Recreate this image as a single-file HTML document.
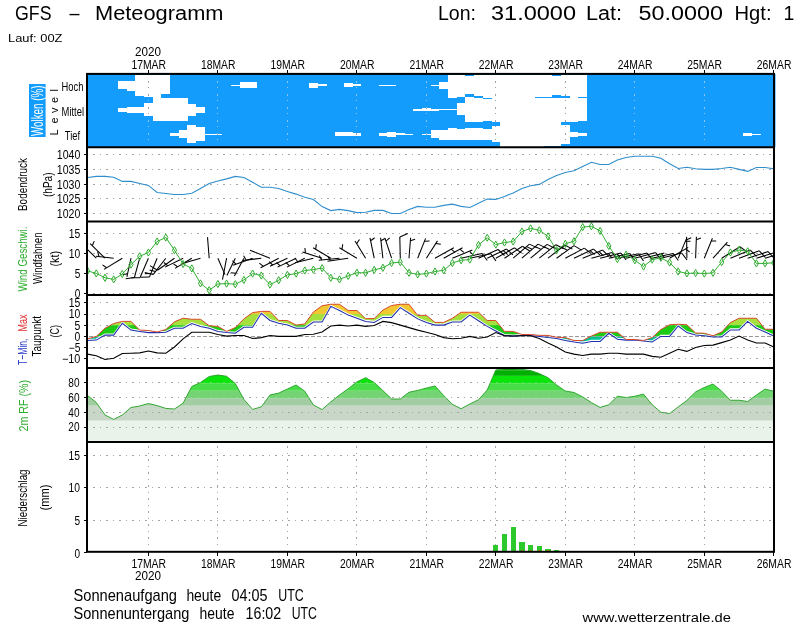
<!DOCTYPE html>
<html lang="de"><head><meta charset="utf-8"><title>GFS - Meteogramm</title>
<style>html,body{margin:0;padding:0;background:#fff}body{width:800px;height:625px;overflow:hidden}svg{display:block}text{font-family:"Liberation Sans",sans-serif}</style></head><body>
<svg width="800" height="625" viewBox="0 0 800 625">
<rect width="800" height="625" fill="#fff"/>
<defs>
<clipPath id="cp0"><rect x="87.0" y="73.9" width="687.0" height="73.4"/></clipPath>
<clipPath id="cp1"><rect x="87.0" y="147.3" width="687.0" height="74.1"/></clipPath>
<clipPath id="cp2"><rect x="87.0" y="221.4" width="687.0" height="73.49999999999997"/></clipPath>
<clipPath id="cp3"><rect x="87.0" y="294.9" width="687.0" height="73.0"/></clipPath>
<clipPath id="cp4"><rect x="87.0" y="367.9" width="687.0" height="74.0"/></clipPath>
<clipPath id="cp5"><rect x="87.0" y="441.9" width="687.0" height="109.89999999999998"/></clipPath>
</defs>
<rect x="87.0" y="73.9" width="688.5" height="73.4" fill="#139cfb"/>
<clipPath id="cw"><rect x="118.00" y="80.75" width="8.74" height="8.15"/><rect x="118.00" y="108" width="8.74" height="3.75"/><rect x="126.69" y="80.75" width="8.74" height="10.00"/><rect x="126.69" y="107" width="8.74" height="5.60"/><rect x="135.37" y="75.0" width="8.74" height="20.75"/><rect x="135.37" y="107" width="8.74" height="5.60"/><rect x="144.06" y="75.0" width="8.74" height="22.00"/><rect x="144.06" y="102.6" width="8.74" height="13.80"/><rect x="152.75" y="75.0" width="8.74" height="46.40"/><rect x="161.43" y="75.0" width="8.74" height="18.90"/><rect x="161.43" y="97.6" width="8.74" height="23.80"/><rect x="170.12" y="97.6" width="8.74" height="23.80"/><rect x="170.12" y="133" width="8.74" height="2.60"/><rect x="178.80" y="97.6" width="8.74" height="23.80"/><rect x="178.80" y="130.1" width="8.74" height="7.90"/><rect x="187.49" y="103.9" width="8.74" height="11.85"/><rect x="187.49" y="125.1" width="8.74" height="17.50"/><rect x="196.18" y="107" width="8.74" height="6.00"/><rect x="196.18" y="126.75" width="8.74" height="14.65"/><rect x="204.86" y="133.7" width="8.74" height="1.10"/><rect x="213.55" y="133.7" width="8.74" height="1.10"/><rect x="230.92" y="84.5" width="8.74" height="1.10"/><rect x="239.60" y="82" width="8.74" height="6.00"/><rect x="248.29" y="82" width="8.74" height="6.00"/><rect x="309.09" y="83.25" width="8.74" height="4.35"/><rect x="317.78" y="84" width="8.74" height="1.75"/><rect x="335.15" y="132.4" width="8.74" height="3.35"/><rect x="343.84" y="83.1" width="8.74" height="3.65"/><rect x="343.84" y="132.4" width="8.74" height="3.60"/><rect x="352.52" y="84.1" width="8.74" height="1.40"/><rect x="352.52" y="132.9" width="8.74" height="2.85"/><rect x="378.58" y="84.6" width="8.74" height="1.10"/><rect x="378.58" y="133" width="8.74" height="2.50"/><rect x="387.27" y="84.6" width="8.74" height="1.10"/><rect x="387.27" y="132" width="8.74" height="5.00"/><rect x="395.95" y="133" width="8.74" height="2.10"/><rect x="404.64" y="133.8" width="8.74" height="1.10"/><rect x="413.33" y="109" width="8.74" height="1.75"/><rect x="422.01" y="108" width="8.74" height="2.75"/><rect x="422.01" y="133.8" width="8.74" height="1.10"/><rect x="430.70" y="84.5" width="8.74" height="1.25"/><rect x="430.70" y="108.9" width="8.74" height="1.85"/><rect x="430.70" y="130.1" width="8.74" height="8.15"/><rect x="439.38" y="82" width="8.74" height="6.90"/><rect x="439.38" y="108.6" width="8.74" height="1.30"/><rect x="439.38" y="129.75" width="8.74" height="9.75"/><rect x="448.07" y="75.0" width="8.74" height="22.60"/><rect x="448.07" y="108.6" width="8.74" height="1.50"/><rect x="448.07" y="128.25" width="8.74" height="11.85"/><rect x="456.75" y="75.0" width="8.74" height="22.00"/><rect x="456.75" y="103.25" width="8.74" height="11.85"/><rect x="456.75" y="128.9" width="8.74" height="11.20"/><rect x="465.44" y="75.75" width="8.74" height="18.50"/><rect x="465.44" y="97" width="8.74" height="25.00"/><rect x="465.44" y="127.6" width="8.74" height="12.50"/><rect x="474.13" y="75.0" width="8.74" height="20.75"/><rect x="474.13" y="97.6" width="8.74" height="24.40"/><rect x="474.13" y="127.6" width="8.74" height="12.50"/><rect x="482.81" y="75.0" width="8.74" height="22.60"/><rect x="482.81" y="98.9" width="8.74" height="22.10"/><rect x="482.81" y="128.9" width="8.74" height="11.20"/><rect x="491.50" y="75.0" width="8.74" height="47.00"/><rect x="491.50" y="125.75" width="8.74" height="16.25"/><rect x="500.18" y="75.0" width="8.74" height="71.60"/><rect x="508.87" y="75.0" width="8.74" height="71.60"/><rect x="517.56" y="75.0" width="8.74" height="71.60"/><rect x="526.24" y="75.0" width="8.74" height="71.60"/><rect x="534.93" y="75.0" width="8.74" height="22.00"/><rect x="534.93" y="97.75" width="8.74" height="48.85"/><rect x="543.62" y="75.0" width="8.74" height="22.00"/><rect x="543.62" y="97.75" width="8.74" height="48.25"/><rect x="552.30" y="75.75" width="8.74" height="19.25"/><rect x="552.30" y="97.75" width="8.74" height="48.00"/><rect x="560.99" y="75.0" width="8.74" height="21.00"/><rect x="560.99" y="97.75" width="8.74" height="24.25"/><rect x="560.99" y="124.5" width="8.74" height="19.50"/><rect x="569.67" y="75.0" width="8.74" height="47.00"/><rect x="569.67" y="132" width="8.74" height="4.50"/><rect x="578.36" y="75.0" width="8.74" height="22.00"/><rect x="578.36" y="97.75" width="8.74" height="23.25"/><rect x="578.36" y="132.9" width="8.74" height="2.85"/><rect x="743.39" y="133" width="8.74" height="2.75"/><rect x="752.08" y="133.7" width="8.74" height="1.00"/></clipPath>
<line x1="148.5" y1="80.5" x2="148.5" y2="146" stroke="#8cc4f2" stroke-width="1" stroke-dasharray="2 4.5 1 5.5" shape-rendering="crispEdges"/>
<line x1="217.5" y1="80.5" x2="217.5" y2="146" stroke="#8cc4f2" stroke-width="1" stroke-dasharray="2 4.5 1 5.5" shape-rendering="crispEdges"/>
<line x1="287.5" y1="80.5" x2="287.5" y2="146" stroke="#8cc4f2" stroke-width="1" stroke-dasharray="2 4.5 1 5.5" shape-rendering="crispEdges"/>
<line x1="356.5" y1="80.5" x2="356.5" y2="146" stroke="#8cc4f2" stroke-width="1" stroke-dasharray="2 4.5 1 5.5" shape-rendering="crispEdges"/>
<line x1="426.5" y1="80.5" x2="426.5" y2="146" stroke="#8cc4f2" stroke-width="1" stroke-dasharray="2 4.5 1 5.5" shape-rendering="crispEdges"/>
<line x1="495.5" y1="80.5" x2="495.5" y2="146" stroke="#8cc4f2" stroke-width="1" stroke-dasharray="2 4.5 1 5.5" shape-rendering="crispEdges"/>
<line x1="565.5" y1="80.5" x2="565.5" y2="146" stroke="#8cc4f2" stroke-width="1" stroke-dasharray="2 4.5 1 5.5" shape-rendering="crispEdges"/>
<line x1="634.5" y1="80.5" x2="634.5" y2="146" stroke="#8cc4f2" stroke-width="1" stroke-dasharray="2 4.5 1 5.5" shape-rendering="crispEdges"/>
<line x1="704.5" y1="80.5" x2="704.5" y2="146" stroke="#8cc4f2" stroke-width="1" stroke-dasharray="2 4.5 1 5.5" shape-rendering="crispEdges"/>
<g fill="#fff" shape-rendering="crispEdges"><rect x="118.00" y="80.75" width="8.74" height="8.15"/><rect x="118.00" y="108" width="8.74" height="3.75"/><rect x="126.69" y="80.75" width="8.74" height="10.00"/><rect x="126.69" y="107" width="8.74" height="5.60"/><rect x="135.37" y="75.0" width="8.74" height="20.75"/><rect x="135.37" y="107" width="8.74" height="5.60"/><rect x="144.06" y="75.0" width="8.74" height="22.00"/><rect x="144.06" y="102.6" width="8.74" height="13.80"/><rect x="152.75" y="75.0" width="8.74" height="46.40"/><rect x="161.43" y="75.0" width="8.74" height="18.90"/><rect x="161.43" y="97.6" width="8.74" height="23.80"/><rect x="170.12" y="97.6" width="8.74" height="23.80"/><rect x="170.12" y="133" width="8.74" height="2.60"/><rect x="178.80" y="97.6" width="8.74" height="23.80"/><rect x="178.80" y="130.1" width="8.74" height="7.90"/><rect x="187.49" y="103.9" width="8.74" height="11.85"/><rect x="187.49" y="125.1" width="8.74" height="17.50"/><rect x="196.18" y="107" width="8.74" height="6.00"/><rect x="196.18" y="126.75" width="8.74" height="14.65"/><rect x="204.86" y="133.7" width="8.74" height="1.10"/><rect x="213.55" y="133.7" width="8.74" height="1.10"/><rect x="230.92" y="84.5" width="8.74" height="1.10"/><rect x="239.60" y="82" width="8.74" height="6.00"/><rect x="248.29" y="82" width="8.74" height="6.00"/><rect x="309.09" y="83.25" width="8.74" height="4.35"/><rect x="317.78" y="84" width="8.74" height="1.75"/><rect x="335.15" y="132.4" width="8.74" height="3.35"/><rect x="343.84" y="83.1" width="8.74" height="3.65"/><rect x="343.84" y="132.4" width="8.74" height="3.60"/><rect x="352.52" y="84.1" width="8.74" height="1.40"/><rect x="352.52" y="132.9" width="8.74" height="2.85"/><rect x="378.58" y="84.6" width="8.74" height="1.10"/><rect x="378.58" y="133" width="8.74" height="2.50"/><rect x="387.27" y="84.6" width="8.74" height="1.10"/><rect x="387.27" y="132" width="8.74" height="5.00"/><rect x="395.95" y="133" width="8.74" height="2.10"/><rect x="404.64" y="133.8" width="8.74" height="1.10"/><rect x="413.33" y="109" width="8.74" height="1.75"/><rect x="422.01" y="108" width="8.74" height="2.75"/><rect x="422.01" y="133.8" width="8.74" height="1.10"/><rect x="430.70" y="84.5" width="8.74" height="1.25"/><rect x="430.70" y="108.9" width="8.74" height="1.85"/><rect x="430.70" y="130.1" width="8.74" height="8.15"/><rect x="439.38" y="82" width="8.74" height="6.90"/><rect x="439.38" y="108.6" width="8.74" height="1.30"/><rect x="439.38" y="129.75" width="8.74" height="9.75"/><rect x="448.07" y="75.0" width="8.74" height="22.60"/><rect x="448.07" y="108.6" width="8.74" height="1.50"/><rect x="448.07" y="128.25" width="8.74" height="11.85"/><rect x="456.75" y="75.0" width="8.74" height="22.00"/><rect x="456.75" y="103.25" width="8.74" height="11.85"/><rect x="456.75" y="128.9" width="8.74" height="11.20"/><rect x="465.44" y="75.75" width="8.74" height="18.50"/><rect x="465.44" y="97" width="8.74" height="25.00"/><rect x="465.44" y="127.6" width="8.74" height="12.50"/><rect x="474.13" y="75.0" width="8.74" height="20.75"/><rect x="474.13" y="97.6" width="8.74" height="24.40"/><rect x="474.13" y="127.6" width="8.74" height="12.50"/><rect x="482.81" y="75.0" width="8.74" height="22.60"/><rect x="482.81" y="98.9" width="8.74" height="22.10"/><rect x="482.81" y="128.9" width="8.74" height="11.20"/><rect x="491.50" y="75.0" width="8.74" height="47.00"/><rect x="491.50" y="125.75" width="8.74" height="16.25"/><rect x="500.18" y="75.0" width="8.74" height="71.60"/><rect x="508.87" y="75.0" width="8.74" height="71.60"/><rect x="517.56" y="75.0" width="8.74" height="71.60"/><rect x="526.24" y="75.0" width="8.74" height="71.60"/><rect x="534.93" y="75.0" width="8.74" height="22.00"/><rect x="534.93" y="97.75" width="8.74" height="48.85"/><rect x="543.62" y="75.0" width="8.74" height="22.00"/><rect x="543.62" y="97.75" width="8.74" height="48.25"/><rect x="552.30" y="75.75" width="8.74" height="19.25"/><rect x="552.30" y="97.75" width="8.74" height="48.00"/><rect x="560.99" y="75.0" width="8.74" height="21.00"/><rect x="560.99" y="97.75" width="8.74" height="24.25"/><rect x="560.99" y="124.5" width="8.74" height="19.50"/><rect x="569.67" y="75.0" width="8.74" height="47.00"/><rect x="569.67" y="132" width="8.74" height="4.50"/><rect x="578.36" y="75.0" width="8.74" height="22.00"/><rect x="578.36" y="97.75" width="8.74" height="23.25"/><rect x="578.36" y="132.9" width="8.74" height="2.85"/><rect x="743.39" y="133" width="8.74" height="2.75"/><rect x="752.08" y="133.7" width="8.74" height="1.00"/></g>
<g clip-path="url(#cw)">
<line x1="148.5" y1="80.5" x2="148.5" y2="146" stroke="#a0a0a0" stroke-width="1" stroke-dasharray="2 4.5 1 5.5" shape-rendering="crispEdges"/>
<line x1="217.5" y1="80.5" x2="217.5" y2="146" stroke="#a0a0a0" stroke-width="1" stroke-dasharray="2 4.5 1 5.5" shape-rendering="crispEdges"/>
<line x1="287.5" y1="80.5" x2="287.5" y2="146" stroke="#a0a0a0" stroke-width="1" stroke-dasharray="2 4.5 1 5.5" shape-rendering="crispEdges"/>
<line x1="356.5" y1="80.5" x2="356.5" y2="146" stroke="#a0a0a0" stroke-width="1" stroke-dasharray="2 4.5 1 5.5" shape-rendering="crispEdges"/>
<line x1="426.5" y1="80.5" x2="426.5" y2="146" stroke="#a0a0a0" stroke-width="1" stroke-dasharray="2 4.5 1 5.5" shape-rendering="crispEdges"/>
<line x1="495.5" y1="80.5" x2="495.5" y2="146" stroke="#a0a0a0" stroke-width="1" stroke-dasharray="2 4.5 1 5.5" shape-rendering="crispEdges"/>
<line x1="565.5" y1="80.5" x2="565.5" y2="146" stroke="#a0a0a0" stroke-width="1" stroke-dasharray="2 4.5 1 5.5" shape-rendering="crispEdges"/>
<line x1="634.5" y1="80.5" x2="634.5" y2="146" stroke="#a0a0a0" stroke-width="1" stroke-dasharray="2 4.5 1 5.5" shape-rendering="crispEdges"/>
<line x1="704.5" y1="80.5" x2="704.5" y2="146" stroke="#a0a0a0" stroke-width="1" stroke-dasharray="2 4.5 1 5.5" shape-rendering="crispEdges"/>
</g>
<line x1="93" y1="154.5" x2="773.0" y2="154.5" stroke="#a4a4a4" stroke-width="1" stroke-dasharray="2 4.5 1 5.5" shape-rendering="crispEdges"/>
<line x1="93" y1="169.5" x2="773.0" y2="169.5" stroke="#a4a4a4" stroke-width="1" stroke-dasharray="2 4.5 1 5.5" shape-rendering="crispEdges"/>
<line x1="93" y1="184.5" x2="773.0" y2="184.5" stroke="#a4a4a4" stroke-width="1" stroke-dasharray="2 4.5 1 5.5" shape-rendering="crispEdges"/>
<line x1="93" y1="198.5" x2="773.0" y2="198.5" stroke="#a4a4a4" stroke-width="1" stroke-dasharray="2 4.5 1 5.5" shape-rendering="crispEdges"/>
<line x1="93" y1="213.5" x2="773.0" y2="213.5" stroke="#a4a4a4" stroke-width="1" stroke-dasharray="2 4.5 1 5.5" shape-rendering="crispEdges"/>
<g clip-path="url(#cp1)">
<polyline points="87.6,177.50 96.3,176.40 105.0,176.40 113.7,177.25 122.3,181.40 131.0,181.40 139.7,183.50 148.4,185.40 157.1,192.50 165.8,193.50 174.5,194.50 183.1,194.50 191.8,193.25 200.5,188.50 209.2,183.50 217.9,181.00 226.6,178.90 235.3,176.40 243.9,177.50 252.6,182.25 261.3,187.25 270.0,187.25 278.7,188.50 287.4,191.40 296.1,194.10 304.8,197.25 313.4,199.50 322.1,206.60 330.8,210.60 339.5,209.40 348.2,210.60 356.9,212.60 365.6,212.25 374.2,210.40 382.9,210.40 391.6,213.50 400.3,213.50 409.0,209.50 417.7,206.40 426.4,207.25 435.0,207.25 443.7,205.40 452.4,204.10 461.1,206.40 469.8,207.50 478.5,203.25 487.2,199.10 495.8,199.40 504.5,196.40 513.2,192.90 521.9,188.50 530.6,185.75 539.3,184.40 548.0,179.50 556.6,175.60 565.3,172.50 574.0,170.75 582.7,166.40 591.4,162.25 600.1,164.50 608.8,164.50 617.4,160.00 626.1,157.50 634.8,156.25 643.5,156.25 652.2,156.25 660.9,158.25 669.6,163.75 678.2,168.50 686.9,167.25 695.6,168.75 704.3,169.40 713.0,169.40 721.7,168.50 730.4,167.25 739.1,169.40 747.7,171.40 756.4,167.50 765.1,167.50 773.8,168.75" fill="none" stroke="#2f8ecb" stroke-width="1.1"/>
</g>
<line x1="93" y1="233.5" x2="773.0" y2="233.5" stroke="#a4a4a4" stroke-width="1" stroke-dasharray="2 4.5 1 5.5" shape-rendering="crispEdges"/>
<line x1="93" y1="253.5" x2="773.0" y2="253.5" stroke="#a4a4a4" stroke-width="1" stroke-dasharray="2 4.5 1 5.5" shape-rendering="crispEdges"/>
<line x1="93" y1="273.5" x2="773.0" y2="273.5" stroke="#a4a4a4" stroke-width="1" stroke-dasharray="2 4.5 1 5.5" shape-rendering="crispEdges"/>
<line x1="93" y1="293.5" x2="773.0" y2="293.5" stroke="#a4a4a4" stroke-width="1" stroke-dasharray="2 4.5 1 5.5" shape-rendering="crispEdges"/>
<g clip-path="url(#cp2)" stroke="#000" stroke-width="1.05" stroke-linecap="butt" fill="none">
<line x1="87.6" y1="258.2" x2="75.2" y2="246.0"/>
<line x1="77.3" y1="248.1" x2="79.2" y2="243.5"/>
<line x1="96.3" y1="258.2" x2="83.9" y2="246.0"/>
<line x1="86.0" y1="248.1" x2="87.9" y2="243.5"/>
<line x1="105.0" y1="258.2" x2="90.2" y2="243.6"/>
<line x1="92.3" y1="245.7" x2="94.2" y2="241.1"/>
<line x1="113.7" y1="258.2" x2="96.0" y2="256.2"/>
<line x1="99.0" y1="256.5" x2="97.6" y2="251.7"/>
<line x1="122.3" y1="258.2" x2="104.0" y2="269.4"/>
<line x1="106.6" y1="267.8" x2="102.5" y2="264.9"/>
<line x1="131.0" y1="258.2" x2="126.9" y2="276.8"/>
<line x1="127.6" y1="273.8" x2="122.6" y2="274.7"/>
<line x1="139.7" y1="258.2" x2="134.4" y2="277.5"/>
<line x1="134.4" y1="277.5" x2="125.7" y2="278.7"/>
<line x1="148.4" y1="258.2" x2="140.0" y2="277.8"/>
<line x1="140.0" y1="277.8" x2="131.2" y2="277.7"/>
<line x1="157.1" y1="258.2" x2="149.4" y2="277.1"/>
<line x1="149.4" y1="277.1" x2="140.8" y2="277.2"/>
<line x1="150.8" y1="273.6" x2="144.8" y2="273.7"/>
<line x1="165.8" y1="258.2" x2="153.1" y2="274.6"/>
<line x1="153.1" y1="274.6" x2="144.8" y2="272.4"/>
<line x1="155.4" y1="271.6" x2="149.6" y2="270.1"/>
<line x1="174.5" y1="258.2" x2="157.5" y2="270.2"/>
<line x1="157.5" y1="270.2" x2="150.0" y2="265.6"/>
<line x1="183.1" y1="258.2" x2="165.0" y2="267.1"/>
<line x1="167.7" y1="265.8" x2="163.9" y2="262.5"/>
<line x1="191.8" y1="258.2" x2="175.0" y2="268.4"/>
<line x1="177.6" y1="266.8" x2="173.5" y2="263.9"/>
<line x1="200.5" y1="258.2" x2="182.5" y2="263.4"/>
<line x1="209.2" y1="258.2" x2="207.5" y2="237.1"/>
<line x1="217.9" y1="258.2" x2="225.0" y2="274.6"/>
<line x1="226.6" y1="258.2" x2="222.5" y2="279.6"/>
<line x1="235.3" y1="258.2" x2="226.9" y2="275.6"/>
<line x1="243.9" y1="258.2" x2="234.4" y2="275.9"/>
<line x1="235.8" y1="273.3" x2="230.8" y2="272.8"/>
<line x1="252.6" y1="258.2" x2="233.1" y2="265.2"/>
<line x1="235.9" y1="264.2" x2="232.5" y2="260.6"/>
<line x1="261.3" y1="258.2" x2="243.1" y2="260.5"/>
<line x1="246.1" y1="260.1" x2="243.6" y2="255.8"/>
<line x1="270.0" y1="258.2" x2="250.0" y2="250.2"/>
<line x1="278.7" y1="258.2" x2="260.6" y2="267.8"/>
<line x1="263.3" y1="266.3" x2="259.4" y2="263.2"/>
<line x1="287.4" y1="258.2" x2="270.0" y2="266.2"/>
<line x1="272.7" y1="265.0" x2="269.0" y2="261.6"/>
<line x1="296.1" y1="258.2" x2="277.5" y2="267.1"/>
<line x1="280.2" y1="265.8" x2="276.5" y2="262.5"/>
<line x1="304.8" y1="258.2" x2="286.9" y2="267.1"/>
<line x1="289.6" y1="265.8" x2="285.8" y2="262.5"/>
<line x1="313.4" y1="258.2" x2="295.0" y2="262.8"/>
<line x1="297.9" y1="262.0" x2="294.9" y2="258.0"/>
<line x1="322.1" y1="258.2" x2="302.5" y2="252.1"/>
<line x1="305.4" y1="253.0" x2="304.9" y2="248.0"/>
<line x1="330.8" y1="258.2" x2="313.1" y2="247.8"/>
<line x1="315.7" y1="249.3" x2="316.3" y2="244.3"/>
<line x1="339.5" y1="258.2" x2="318.8" y2="260.2"/>
<line x1="321.7" y1="260.0" x2="319.3" y2="255.6"/>
<line x1="348.2" y1="258.2" x2="327.5" y2="261.2"/>
<line x1="330.5" y1="260.8" x2="327.9" y2="256.5"/>
<line x1="356.9" y1="258.2" x2="339.4" y2="247.8"/>
<line x1="342.0" y1="249.3" x2="342.7" y2="244.3"/>
<line x1="365.6" y1="258.2" x2="355.0" y2="241.0"/>
<line x1="356.6" y1="243.6" x2="359.5" y2="239.5"/>
<line x1="374.2" y1="258.2" x2="370.0" y2="237.8"/>
<line x1="370.6" y1="240.7" x2="374.7" y2="237.8"/>
<line x1="382.9" y1="258.2" x2="380.6" y2="237.8"/>
<line x1="380.9" y1="240.7" x2="385.3" y2="238.3"/>
<line x1="391.6" y1="258.2" x2="385.0" y2="238.4"/>
<line x1="385.9" y1="241.2" x2="389.7" y2="237.9"/>
<line x1="400.3" y1="258.2" x2="399.8" y2="237.1"/>
<line x1="399.8" y1="237.1" x2="407.8" y2="233.5"/>
<line x1="409.0" y1="258.2" x2="410.6" y2="237.8"/>
<line x1="410.4" y1="240.7" x2="415.1" y2="239.2"/>
<line x1="417.7" y1="258.2" x2="425.6" y2="238.4"/>
<line x1="424.5" y1="241.2" x2="429.5" y2="241.1"/>
<line x1="426.4" y1="258.2" x2="437.5" y2="240.9"/>
<line x1="435.9" y1="243.4" x2="440.8" y2="244.3"/>
<line x1="435.0" y1="258.2" x2="453.8" y2="247.8"/>
<line x1="451.1" y1="249.2" x2="455.1" y2="252.3"/>
<line x1="443.7" y1="258.2" x2="462.5" y2="247.8"/>
<line x1="459.9" y1="249.2" x2="463.8" y2="252.3"/>
<line x1="452.4" y1="258.2" x2="472.3" y2="250.1"/>
<line x1="469.6" y1="251.3" x2="473.1" y2="254.8"/>
<line x1="461.1" y1="258.2" x2="482.0" y2="253.4"/>
<line x1="482.0" y1="253.4" x2="487.2" y2="260.5"/>
<line x1="469.8" y1="258.2" x2="490.8" y2="253.7"/>
<line x1="490.8" y1="253.7" x2="495.9" y2="260.9"/>
<line x1="478.5" y1="258.2" x2="498.1" y2="249.5"/>
<line x1="498.1" y1="249.5" x2="504.5" y2="255.5"/>
<line x1="487.2" y1="258.2" x2="506.6" y2="249.1"/>
<line x1="506.6" y1="249.1" x2="513.0" y2="254.9"/>
<line x1="503.2" y1="250.7" x2="507.7" y2="254.7"/>
<line x1="495.8" y1="258.2" x2="514.6" y2="247.8"/>
<line x1="514.6" y1="247.8" x2="521.6" y2="253.2"/>
<line x1="504.5" y1="258.2" x2="522.4" y2="246.2"/>
<line x1="522.4" y1="246.2" x2="529.7" y2="251.0"/>
<line x1="513.2" y1="258.2" x2="529.4" y2="244.1"/>
<line x1="529.4" y1="244.1" x2="537.2" y2="247.9"/>
<line x1="526.6" y1="246.6" x2="532.0" y2="249.2"/>
<line x1="521.9" y1="258.2" x2="538.1" y2="244.1"/>
<line x1="538.1" y1="244.1" x2="545.9" y2="247.9"/>
<line x1="535.3" y1="246.6" x2="540.7" y2="249.2"/>
<line x1="530.6" y1="258.2" x2="547.1" y2="244.4"/>
<line x1="547.1" y1="244.4" x2="554.7" y2="248.3"/>
<line x1="544.1" y1="246.8" x2="549.5" y2="249.5"/>
<line x1="539.3" y1="258.2" x2="556.0" y2="244.7"/>
<line x1="556.0" y1="244.7" x2="563.6" y2="248.7"/>
<line x1="553.0" y1="247.1" x2="558.3" y2="249.9"/>
<line x1="548.0" y1="258.2" x2="564.9" y2="245.0"/>
<line x1="564.9" y1="245.0" x2="572.4" y2="249.1"/>
<line x1="561.9" y1="247.3" x2="567.2" y2="250.2"/>
<line x1="556.6" y1="258.2" x2="574.0" y2="245.6"/>
<line x1="574.0" y1="245.6" x2="581.6" y2="250.1"/>
<line x1="565.3" y1="258.2" x2="584.3" y2="248.1"/>
<line x1="584.3" y1="248.1" x2="591.2" y2="253.6"/>
<line x1="574.0" y1="258.2" x2="593.5" y2="249.1"/>
<line x1="593.5" y1="249.1" x2="599.9" y2="254.9"/>
<line x1="590.1" y1="250.7" x2="594.5" y2="254.7"/>
<line x1="582.7" y1="258.2" x2="602.6" y2="250.1"/>
<line x1="602.6" y1="250.1" x2="608.7" y2="256.2"/>
<line x1="599.1" y1="251.6" x2="603.4" y2="255.8"/>
<line x1="591.4" y1="258.2" x2="612.2" y2="252.6"/>
<line x1="612.2" y1="252.6" x2="617.5" y2="259.4"/>
<line x1="608.5" y1="253.6" x2="612.2" y2="258.3"/>
<line x1="600.1" y1="258.2" x2="620.9" y2="253.0"/>
<line x1="620.9" y1="253.0" x2="626.1" y2="259.9"/>
<line x1="617.2" y1="253.9" x2="620.9" y2="258.7"/>
<line x1="608.8" y1="258.2" x2="629.7" y2="253.4"/>
<line x1="629.7" y1="253.4" x2="634.9" y2="260.5"/>
<line x1="617.4" y1="258.2" x2="638.5" y2="253.7"/>
<line x1="638.5" y1="253.7" x2="643.5" y2="260.9"/>
<line x1="626.1" y1="258.2" x2="647.0" y2="253.0"/>
<line x1="647.0" y1="253.0" x2="652.3" y2="260.0"/>
<line x1="634.8" y1="258.2" x2="655.6" y2="252.6"/>
<line x1="655.6" y1="252.6" x2="661.0" y2="259.6"/>
<line x1="643.5" y1="258.2" x2="664.4" y2="253.0"/>
<line x1="661.5" y1="253.7" x2="664.5" y2="257.7"/>
<line x1="652.2" y1="258.2" x2="673.1" y2="253.4"/>
<line x1="673.1" y1="253.4" x2="678.3" y2="260.5"/>
<line x1="660.9" y1="258.2" x2="681.7" y2="253.0"/>
<line x1="681.7" y1="253.0" x2="687.0" y2="260.0"/>
<line x1="669.6" y1="258.2" x2="688.2" y2="247.4"/>
<line x1="685.6" y1="248.9" x2="689.6" y2="252.0"/>
<line x1="678.2" y1="258.2" x2="686.6" y2="238.4"/>
<line x1="685.5" y1="241.2" x2="690.5" y2="241.2"/>
<line x1="686.9" y1="258.2" x2="686.6" y2="236.7"/>
<line x1="686.6" y1="239.7" x2="691.2" y2="237.7"/>
<line x1="695.6" y1="258.2" x2="696.4" y2="236.7"/>
<line x1="696.3" y1="239.7" x2="700.9" y2="237.9"/>
<line x1="704.3" y1="258.2" x2="712.4" y2="238.3"/>
<line x1="711.2" y1="241.0" x2="716.2" y2="241.0"/>
<line x1="713.0" y1="258.2" x2="727.4" y2="242.2"/>
<line x1="725.4" y1="244.5" x2="730.1" y2="246.1"/>
<line x1="721.7" y1="258.2" x2="739.9" y2="246.8"/>
<line x1="739.9" y1="246.8" x2="747.1" y2="251.9"/>
<line x1="730.4" y1="258.2" x2="750.3" y2="250.1"/>
<line x1="750.3" y1="250.1" x2="756.5" y2="256.4"/>
<line x1="739.1" y1="258.2" x2="759.3" y2="250.8"/>
<line x1="759.3" y1="250.8" x2="765.3" y2="257.3"/>
<line x1="747.7" y1="258.2" x2="768.2" y2="251.6"/>
<line x1="768.2" y1="251.6" x2="774.0" y2="258.2"/>
<line x1="756.4" y1="258.2" x2="777.0" y2="251.9"/>
<line x1="774.1" y1="252.8" x2="777.3" y2="256.6"/>
<line x1="765.1" y1="258.2" x2="785.7" y2="251.9"/>
<line x1="782.8" y1="252.8" x2="786.0" y2="256.6"/>
<line x1="773.8" y1="258.2" x2="794.4" y2="251.9"/>
<line x1="791.5" y1="252.8" x2="794.7" y2="256.6"/>
</g>
<g clip-path="url(#cp2)">
<polyline points="87.6,270.90 96.3,273.40 105.0,277.75 113.7,279.40 122.3,274.00 131.0,264.60 139.7,256.25 148.4,252.50 157.1,241.50 165.8,237.50 174.5,250.25 183.1,264.00 191.8,268.40 200.5,283.40 209.2,290.25 217.9,284.00 226.6,283.60 235.3,284.25 243.9,279.90 252.6,273.60 261.3,275.50 270.0,284.60 278.7,280.25 287.4,274.90 296.1,273.60 304.8,270.50 313.4,269.60 322.1,268.10 330.8,277.75 339.5,279.40 348.2,275.90 356.9,272.75 365.6,272.75 374.2,269.90 382.9,267.75 391.6,263.00 400.3,262.10 409.0,272.75 417.7,274.40 426.4,273.60 435.0,271.50 443.7,270.25 452.4,263.00 461.1,260.25 469.8,259.60 478.5,245.00 487.2,237.75 495.8,244.60 504.5,242.50 513.2,241.50 521.9,231.50 530.6,228.40 539.3,230.25 548.0,236.40 556.6,250.25 565.3,243.75 574.0,241.25 582.7,227.10 591.4,226.25 600.1,230.90 608.8,245.90 617.4,259.00 626.1,254.60 634.8,260.25 643.5,266.50 652.2,259.60 660.9,257.75 669.6,262.50 678.2,271.50 686.9,273.40 695.6,273.00 704.3,273.60 713.0,272.75 721.7,262.10 730.4,252.50 739.1,250.00 747.7,251.25 756.4,263.40 765.1,263.40 773.8,262.75" fill="none" stroke="#2fae2f" stroke-width="1.0"/>
<g fill="none" stroke="#2fae2f" stroke-width="1">
<path d="M85.5 270.9L87.6 267.3L89.7 270.9L87.6 274.5Z"/>
<path d="M94.2 273.4L96.3 269.8L98.4 273.4L96.3 277.0Z"/>
<path d="M102.9 277.8L105.0 274.1L107.1 277.8L105.0 281.4Z"/>
<path d="M111.6 279.4L113.7 275.8L115.8 279.4L113.7 283.0Z"/>
<path d="M120.2 274.0L122.3 270.4L124.4 274.0L122.3 277.6Z"/>
<path d="M128.9 264.6L131.0 261.0L133.1 264.6L131.0 268.2Z"/>
<path d="M137.6 256.2L139.7 252.7L141.8 256.2L139.7 259.9Z"/>
<path d="M146.3 252.5L148.4 248.9L150.5 252.5L148.4 256.1Z"/>
<path d="M155.0 241.5L157.1 237.9L159.2 241.5L157.1 245.1Z"/>
<path d="M163.7 237.5L165.8 233.9L167.9 237.5L165.8 241.1Z"/>
<path d="M172.4 250.2L174.5 246.7L176.6 250.2L174.5 253.8Z"/>
<path d="M181.0 264.0L183.1 260.4L185.2 264.0L183.1 267.6Z"/>
<path d="M189.7 268.4L191.8 264.8L193.9 268.4L191.8 272.0Z"/>
<path d="M198.4 283.4L200.5 279.8L202.6 283.4L200.5 287.0Z"/>
<path d="M207.1 290.2L209.2 286.6L211.3 290.2L209.2 293.9Z"/>
<path d="M215.8 284.0L217.9 280.4L220.0 284.0L217.9 287.6Z"/>
<path d="M224.5 283.6L226.6 280.0L228.7 283.6L226.6 287.2Z"/>
<path d="M233.2 284.2L235.3 280.6L237.4 284.2L235.3 287.9Z"/>
<path d="M241.8 279.9L243.9 276.3L246.0 279.9L243.9 283.5Z"/>
<path d="M250.5 273.6L252.6 270.0L254.7 273.6L252.6 277.2Z"/>
<path d="M259.2 275.5L261.3 271.9L263.4 275.5L261.3 279.1Z"/>
<path d="M267.9 284.6L270.0 281.0L272.1 284.6L270.0 288.2Z"/>
<path d="M276.6 280.2L278.7 276.6L280.8 280.2L278.7 283.9Z"/>
<path d="M285.3 274.9L287.4 271.3L289.5 274.9L287.4 278.5Z"/>
<path d="M294.0 273.6L296.1 270.0L298.2 273.6L296.1 277.2Z"/>
<path d="M302.6 270.5L304.8 266.9L306.9 270.5L304.8 274.1Z"/>
<path d="M311.3 269.6L313.4 266.0L315.5 269.6L313.4 273.2Z"/>
<path d="M320.0 268.1L322.1 264.5L324.2 268.1L322.1 271.7Z"/>
<path d="M328.7 277.8L330.8 274.1L332.9 277.8L330.8 281.4Z"/>
<path d="M337.4 279.4L339.5 275.8L341.6 279.4L339.5 283.0Z"/>
<path d="M346.1 275.9L348.2 272.3L350.3 275.9L348.2 279.5Z"/>
<path d="M354.8 272.8L356.9 269.1L359.0 272.8L356.9 276.4Z"/>
<path d="M363.5 272.8L365.6 269.1L367.7 272.8L365.6 276.4Z"/>
<path d="M372.1 269.9L374.2 266.3L376.3 269.9L374.2 273.5Z"/>
<path d="M380.8 267.8L382.9 264.1L385.0 267.8L382.9 271.4Z"/>
<path d="M389.5 263.0L391.6 259.4L393.7 263.0L391.6 266.6Z"/>
<path d="M398.2 262.1L400.3 258.5L402.4 262.1L400.3 265.7Z"/>
<path d="M406.9 272.8L409.0 269.1L411.1 272.8L409.0 276.4Z"/>
<path d="M415.6 274.4L417.7 270.8L419.8 274.4L417.7 278.0Z"/>
<path d="M424.3 273.6L426.4 270.0L428.5 273.6L426.4 277.2Z"/>
<path d="M432.9 271.5L435.0 267.9L437.1 271.5L435.0 275.1Z"/>
<path d="M441.6 270.2L443.7 266.6L445.8 270.2L443.7 273.9Z"/>
<path d="M450.3 263.0L452.4 259.4L454.5 263.0L452.4 266.6Z"/>
<path d="M459.0 260.2L461.1 256.6L463.2 260.2L461.1 263.9Z"/>
<path d="M467.7 259.6L469.8 256.0L471.9 259.6L469.8 263.2Z"/>
<path d="M476.4 245.0L478.5 241.4L480.6 245.0L478.5 248.6Z"/>
<path d="M485.1 237.8L487.2 234.2L489.3 237.8L487.2 241.3Z"/>
<path d="M493.7 244.6L495.8 241.0L497.9 244.6L495.8 248.2Z"/>
<path d="M502.4 242.5L504.5 238.9L506.6 242.5L504.5 246.1Z"/>
<path d="M511.1 241.5L513.2 237.9L515.3 241.5L513.2 245.1Z"/>
<path d="M519.8 231.5L521.9 227.9L524.0 231.5L521.9 235.1Z"/>
<path d="M528.5 228.4L530.6 224.8L532.7 228.4L530.6 232.0Z"/>
<path d="M537.2 230.2L539.3 226.7L541.4 230.2L539.3 233.8Z"/>
<path d="M545.9 236.4L548.0 232.8L550.1 236.4L548.0 240.0Z"/>
<path d="M554.5 250.2L556.6 246.7L558.7 250.2L556.6 253.8Z"/>
<path d="M563.2 243.8L565.3 240.2L567.4 243.8L565.3 247.3Z"/>
<path d="M571.9 241.2L574.0 237.7L576.1 241.2L574.0 244.8Z"/>
<path d="M580.6 227.1L582.7 223.5L584.8 227.1L582.7 230.7Z"/>
<path d="M589.3 226.2L591.4 222.7L593.5 226.2L591.4 229.8Z"/>
<path d="M598.0 230.9L600.1 227.3L602.2 230.9L600.1 234.5Z"/>
<path d="M606.7 245.9L608.8 242.3L610.9 245.9L608.8 249.5Z"/>
<path d="M615.3 259.0L617.4 255.4L619.5 259.0L617.4 262.6Z"/>
<path d="M624.0 254.6L626.1 251.0L628.2 254.6L626.1 258.2Z"/>
<path d="M632.7 260.2L634.8 256.6L636.9 260.2L634.8 263.9Z"/>
<path d="M641.4 266.5L643.5 262.9L645.6 266.5L643.5 270.1Z"/>
<path d="M650.1 259.6L652.2 256.0L654.3 259.6L652.2 263.2Z"/>
<path d="M658.8 257.8L660.9 254.2L663.0 257.8L660.9 261.4Z"/>
<path d="M667.5 262.5L669.6 258.9L671.7 262.5L669.6 266.1Z"/>
<path d="M676.1 271.5L678.2 267.9L680.3 271.5L678.2 275.1Z"/>
<path d="M684.8 273.4L686.9 269.8L689.0 273.4L686.9 277.0Z"/>
<path d="M693.5 273.0L695.6 269.4L697.7 273.0L695.6 276.6Z"/>
<path d="M702.2 273.6L704.3 270.0L706.4 273.6L704.3 277.2Z"/>
<path d="M710.9 272.8L713.0 269.1L715.1 272.8L713.0 276.4Z"/>
<path d="M719.6 262.1L721.7 258.5L723.8 262.1L721.7 265.7Z"/>
<path d="M728.3 252.5L730.4 248.9L732.5 252.5L730.4 256.1Z"/>
<path d="M737.0 250.0L739.1 246.4L741.2 250.0L739.1 253.6Z"/>
<path d="M745.6 251.2L747.7 247.7L749.8 251.2L747.7 254.8Z"/>
<path d="M754.3 263.4L756.4 259.8L758.5 263.4L756.4 267.0Z"/>
<path d="M763.0 263.4L765.1 259.8L767.2 263.4L765.1 267.0Z"/>
<path d="M771.7 262.8L773.8 259.1L775.9 262.8L773.8 266.4Z"/>
</g></g>
<line x1="93" y1="302.5" x2="773.0" y2="302.5" stroke="#a4a4a4" stroke-width="1" stroke-dasharray="2 4.5 1 5.5" shape-rendering="crispEdges"/>
<line x1="93" y1="314.5" x2="773.0" y2="314.5" stroke="#a4a4a4" stroke-width="1" stroke-dasharray="2 4.5 1 5.5" shape-rendering="crispEdges"/>
<line x1="93" y1="325.5" x2="773.0" y2="325.5" stroke="#a4a4a4" stroke-width="1" stroke-dasharray="2 4.5 1 5.5" shape-rendering="crispEdges"/>
<line x1="93" y1="347.5" x2="773.0" y2="347.5" stroke="#a4a4a4" stroke-width="1" stroke-dasharray="2 4.5 1 5.5" shape-rendering="crispEdges"/>
<line x1="93" y1="358.5" x2="773.0" y2="358.5" stroke="#a4a4a4" stroke-width="1" stroke-dasharray="2 4.5 1 5.5" shape-rendering="crispEdges"/>
<clipPath id="tfill"><polygon points="87.6,338.90 96.3,336.40 105.0,328.25 113.7,323.50 122.3,321.40 131.0,321.40 139.7,330.10 148.4,330.50 157.1,332.00 165.8,329.50 174.5,321.75 183.1,318.25 191.8,319.25 200.5,319.25 209.2,325.75 217.9,326.40 226.6,331.40 235.3,327.60 243.9,318.90 252.6,312.60 261.3,311.40 270.0,311.40 278.7,320.50 287.4,320.50 296.1,325.10 304.8,323.90 313.4,312.00 322.1,305.75 330.8,304.25 339.5,304.25 348.2,310.50 356.9,310.50 365.6,318.70 374.2,318.50 382.9,310.10 391.6,305.50 400.3,304.25 409.0,304.25 417.7,315.40 426.4,315.40 435.0,322.40 443.7,322.40 452.4,318.25 461.1,312.25 469.8,312.25 478.5,312.25 487.2,320.50 495.8,320.50 504.5,331.40 513.2,331.40 521.9,334.50 530.6,334.50 539.3,335.40 548.0,335.40 556.6,337.25 565.3,337.60 574.0,340.50 582.7,340.50 591.4,336.00 600.1,332.25 608.8,332.25 617.4,332.25 626.1,339.50 634.8,339.50 643.5,340.50 652.2,337.60 660.9,329.50 669.6,324.75 678.2,324.25 686.9,324.75 695.6,333.00 704.3,333.25 713.0,335.75 721.7,332.00 730.4,322.60 739.1,318.25 747.7,318.25 756.4,318.25 765.1,329.25 773.8,329.25 773.8,335.20 765.1,331.20 756.4,327.45 747.7,320.60 739.1,329.10 730.4,329.10 721.7,336.20 713.0,336.20 704.3,334.95 695.6,334.30 686.9,331.80 678.2,325.20 669.6,335.60 660.9,335.60 652.2,341.20 643.5,340.30 634.8,339.30 626.1,339.30 617.4,338.45 608.8,332.45 600.1,340.60 591.4,340.60 582.7,342.45 574.0,341.20 565.3,339.70 556.6,337.70 548.0,336.80 539.3,335.60 530.6,334.70 521.9,334.70 513.2,335.30 504.5,334.70 495.8,330.20 487.2,325.60 478.5,319.95 469.8,314.30 461.1,321.20 452.4,321.20 443.7,324.30 435.0,324.30 426.4,321.80 417.7,318.10 409.0,312.45 400.3,306.80 391.6,316.60 382.9,316.60 374.2,321.60 365.6,320.60 356.9,317.45 348.2,314.30 339.5,309.70 330.8,305.60 322.1,321.20 313.4,321.20 304.8,327.45 296.1,327.45 287.4,324.30 278.7,322.45 270.0,319.70 261.3,312.45 252.6,326.45 243.9,326.45 235.3,332.45 226.6,331.80 217.9,330.60 209.2,327.45 200.5,325.60 191.8,322.70 183.1,327.45 174.5,327.45 165.8,331.45 157.1,331.80 148.4,331.80 139.7,330.60 131.0,329.30 122.3,322.45 113.7,334.30 105.0,334.30 96.3,339.30 87.6,339.70"/></clipPath>
<g clip-path="url(#cp3)"><g clip-path="url(#tfill)">
<rect x="87.0" y="280.40" width="687.0" height="22.40" fill="#f08c28"/>
<rect x="87.0" y="302.80" width="687.0" height="11.20" fill="#f2c832"/>
<rect x="87.0" y="314.00" width="687.0" height="11.20" fill="#a6e03c"/>
<rect x="87.0" y="325.20" width="687.0" height="11.20" fill="#1ccc14"/>
<rect x="87.0" y="336.40" width="687.0" height="4.93" fill="#00c490"/>
<rect x="87.0" y="341.33" width="687.0" height="39.87" fill="#10d8d0"/>
</g>
<polyline points="87.6,339.50 96.3,339.10 105.0,334.10 113.7,334.10 122.3,322.25 131.0,329.10 139.7,330.40 148.4,331.60 157.1,331.60 165.8,331.25 174.5,327.25 183.1,327.25 191.8,322.50 200.5,325.40 209.2,327.25 217.9,330.40 226.6,331.60 235.3,332.25 243.9,326.25 252.6,326.25 261.3,312.25 270.0,319.50 278.7,322.25 287.4,324.10 296.1,327.25 304.8,327.25 313.4,321.00 322.1,321.00 330.8,305.40 339.5,309.50 348.2,314.10 356.9,317.25 365.6,320.40 374.2,321.40 382.9,316.40 391.6,316.40 400.3,306.60 409.0,312.25 417.7,317.90 426.4,321.60 435.0,324.10 443.7,324.10 452.4,321.00 461.1,321.00 469.8,314.10 478.5,319.75 487.2,325.40 495.8,330.00 504.5,334.50 513.2,335.10 521.9,334.50 530.6,334.50 539.3,335.40 548.0,336.60 556.6,337.50 565.3,339.50 574.0,341.00 582.7,342.25 591.4,340.40 600.1,340.40 608.8,332.25 617.4,338.25 626.1,339.10 634.8,339.10 643.5,340.10 652.2,341.00 660.9,335.40 669.6,335.40 678.2,325.00 686.9,331.60 695.6,334.10 704.3,334.75 713.0,336.00 721.7,336.00 730.4,328.90 739.1,328.90 747.7,320.40 756.4,327.25 765.1,331.00 773.8,335.00" fill="none" stroke="#fff" stroke-width="1.1"/>
</g>
<line x1="88.5" y1="336.5" x2="773.0" y2="336.5" stroke="#9a9a9a" stroke-width="1" stroke-dasharray="4 2" shape-rendering="crispEdges"/>
<g clip-path="url(#cp3)">
<polyline points="87.6,340.50 96.3,340.10 105.0,335.10 113.7,335.10 122.3,323.25 131.0,330.10 139.7,331.40 148.4,332.60 157.1,332.60 165.8,332.25 174.5,328.25 183.1,328.25 191.8,323.50 200.5,326.40 209.2,328.25 217.9,331.40 226.6,332.60 235.3,333.25 243.9,327.25 252.6,327.25 261.3,313.25 270.0,320.50 278.7,323.25 287.4,325.10 296.1,328.25 304.8,328.25 313.4,322.00 322.1,322.00 330.8,306.40 339.5,310.50 348.2,315.10 356.9,318.25 365.6,321.40 374.2,322.40 382.9,317.40 391.6,317.40 400.3,307.60 409.0,313.25 417.7,318.90 426.4,322.60 435.0,325.10 443.7,325.10 452.4,322.00 461.1,322.00 469.8,315.10 478.5,320.75 487.2,326.40 495.8,331.00 504.5,335.50 513.2,336.10 521.9,335.50 530.6,335.50 539.3,336.40 548.0,337.60 556.6,338.50 565.3,340.50 574.0,342.00 582.7,343.25 591.4,341.40 600.1,341.40 608.8,333.25 617.4,339.25 626.1,340.10 634.8,340.10 643.5,341.10 652.2,342.00 660.9,336.40 669.6,336.40 678.2,326.00 686.9,332.60 695.6,335.10 704.3,335.75 713.0,337.00 721.7,337.00 730.4,329.90 739.1,329.90 747.7,321.40 756.4,328.25 765.1,332.00 773.8,336.00" fill="none" stroke="#2030b0" stroke-width="1.05"/>
<polyline points="87.6,338.90 96.3,336.40 105.0,328.25 113.7,323.50 122.3,321.40 131.0,321.40 139.7,330.10 148.4,330.50 157.1,332.00 165.8,329.50 174.5,321.75 183.1,318.25 191.8,319.25 200.5,319.25 209.2,325.75 217.9,326.40 226.6,331.40 235.3,327.60 243.9,318.90 252.6,312.60 261.3,311.40 270.0,311.40 278.7,320.50 287.4,320.50 296.1,325.10 304.8,323.90 313.4,312.00 322.1,305.75 330.8,304.25 339.5,304.25 348.2,310.50 356.9,310.50 365.6,318.70 374.2,318.50 382.9,310.10 391.6,305.50 400.3,304.25 409.0,304.25 417.7,315.40 426.4,315.40 435.0,322.40 443.7,322.40 452.4,318.25 461.1,312.25 469.8,312.25 478.5,312.25 487.2,320.50 495.8,320.50 504.5,331.40 513.2,331.40 521.9,334.50 530.6,334.50 539.3,335.40 548.0,335.40 556.6,337.25 565.3,337.60 574.0,340.50 582.7,340.50 591.4,336.00 600.1,332.25 608.8,332.25 617.4,332.25 626.1,339.50 634.8,339.50 643.5,340.50 652.2,337.60 660.9,329.50 669.6,324.75 678.2,324.25 686.9,324.75 695.6,333.00 704.3,333.25 713.0,335.75 721.7,332.00 730.4,322.60 739.1,318.25 747.7,318.25 756.4,318.25 765.1,329.25 773.8,329.25" fill="none" stroke="#d8482a" stroke-width="1.0"/>
<polyline points="87.6,354.10 96.3,355.75 105.0,359.50 113.7,358.25 122.3,353.50 131.0,353.25 139.7,352.90 148.4,351.00 157.1,352.90 165.8,353.25 174.5,347.00 183.1,338.90 191.8,332.25 200.5,332.25 209.2,332.25 217.9,334.50 226.6,336.10 235.3,335.50 243.9,335.50 252.6,338.50 261.3,337.60 270.0,335.50 278.7,336.40 287.4,336.40 296.1,336.40 304.8,334.50 313.4,334.25 322.1,332.00 330.8,326.00 339.5,325.10 348.2,326.00 356.9,325.10 365.6,326.40 374.2,325.50 382.9,321.40 391.6,322.60 400.3,325.10 409.0,327.60 417.7,330.10 426.4,332.25 435.0,334.50 443.7,337.60 452.4,338.70 461.1,338.25 469.8,336.40 478.5,338.25 487.2,337.00 495.8,332.60 504.5,335.75 513.2,336.00 521.9,335.75 530.6,335.75 539.3,338.50 548.0,342.90 556.6,347.00 565.3,352.00 574.0,354.10 582.7,355.50 591.4,354.10 600.1,354.10 608.8,353.25 617.4,353.25 626.1,354.10 634.8,354.10 643.5,354.10 652.2,356.40 660.9,357.25 669.6,353.25 678.2,349.25 686.9,351.40 695.6,347.40 704.3,345.50 713.0,345.10 721.7,342.60 730.4,340.10 739.1,336.00 747.7,340.10 756.4,343.00 765.1,343.00 773.8,347.00" fill="none" stroke="#000" stroke-width="1.1"/>
</g>
<clipPath id="hfill"><polygon points="87.0,442.0 87.6,395.60 96.3,402.50 105.0,415.00 113.7,419.40 122.3,415.00 131.0,407.50 139.7,406.00 148.4,403.50 157.1,405.60 165.8,408.40 174.5,409.00 183.1,403.10 191.8,386.50 200.5,382.50 209.2,376.50 217.9,375.00 226.6,376.25 235.3,383.50 243.9,399.40 252.6,409.40 261.3,406.90 270.0,395.00 278.7,393.10 287.4,389.00 296.1,385.00 304.8,391.25 313.4,405.00 322.1,409.60 330.8,401.90 339.5,395.00 348.2,388.75 356.9,381.90 365.6,377.70 374.2,382.50 382.9,390.60 391.6,399.00 400.3,399.00 409.0,392.25 417.7,390.40 426.4,388.10 435.0,386.00 443.7,395.60 452.4,404.25 461.1,408.75 469.8,404.00 478.5,399.75 487.2,390.00 495.8,370.00 504.5,369.00 513.2,369.00 521.9,369.40 530.6,370.60 539.3,373.50 548.0,377.70 556.6,385.00 565.3,391.00 574.0,392.50 582.7,396.90 591.4,402.50 600.1,407.50 608.8,404.75 617.4,396.25 626.1,397.50 634.8,396.25 643.5,394.10 652.2,404.75 660.9,412.25 669.6,413.50 678.2,406.90 686.9,400.40 695.6,391.90 704.3,387.50 713.0,384.00 721.7,391.25 730.4,400.25 739.1,400.25 747.7,401.50 756.4,395.00 765.1,389.10 773.8,391.25 774.0,442.0"/></clipPath>
<g clip-path="url(#cp4)"><g clip-path="url(#hfill)">
<rect x="87.0" y="420.55" width="687.0" height="22.35" fill="#e9f3e9"/>
<rect x="87.0" y="405.65" width="687.0" height="14.90" fill="#c9d7c9"/>
<rect x="87.0" y="398.20" width="687.0" height="7.45" fill="#a2cda2"/>
<rect x="87.0" y="390.75" width="687.0" height="7.45" fill="#74d474"/>
<rect x="87.0" y="383.30" width="687.0" height="7.45" fill="#48dc48"/>
<rect x="87.0" y="375.85" width="687.0" height="7.45" fill="#0ae40a"/>
<rect x="87.0" y="370.26" width="687.0" height="5.59" fill="#00b000"/>
<rect x="87.0" y="367.65" width="687.0" height="2.61" fill="#009000"/>
</g>
<polyline points="87.6,395.60 96.3,402.50 105.0,415.00 113.7,419.40 122.3,415.00 131.0,407.50 139.7,406.00 148.4,403.50 157.1,405.60 165.8,408.40 174.5,409.00 183.1,403.10 191.8,386.50 200.5,382.50 209.2,376.50 217.9,375.00 226.6,376.25 235.3,383.50 243.9,399.40 252.6,409.40 261.3,406.90 270.0,395.00 278.7,393.10 287.4,389.00 296.1,385.00 304.8,391.25 313.4,405.00 322.1,409.60 330.8,401.90 339.5,395.00 348.2,388.75 356.9,381.90 365.6,377.70 374.2,382.50 382.9,390.60 391.6,399.00 400.3,399.00 409.0,392.25 417.7,390.40 426.4,388.10 435.0,386.00 443.7,395.60 452.4,404.25 461.1,408.75 469.8,404.00 478.5,399.75 487.2,390.00 495.8,370.00 504.5,369.00 513.2,369.00 521.9,369.40 530.6,370.60 539.3,373.50 548.0,377.70 556.6,385.00 565.3,391.00 574.0,392.50 582.7,396.90 591.4,402.50 600.1,407.50 608.8,404.75 617.4,396.25 626.1,397.50 634.8,396.25 643.5,394.10 652.2,404.75 660.9,412.25 669.6,413.50 678.2,406.90 686.9,400.40 695.6,391.90 704.3,387.50 713.0,384.00 721.7,391.25 730.4,400.25 739.1,400.25 747.7,401.50 756.4,395.00 765.1,389.10 773.8,391.25" fill="none" stroke="#28a428" stroke-width="0.95"/>
</g>
<line x1="93" y1="427.5" x2="773.0" y2="427.5" stroke="#a4a4a4" stroke-width="1" stroke-dasharray="2 4.5 1 5.5" shape-rendering="crispEdges"/>
<line x1="93" y1="412.5" x2="773.0" y2="412.5" stroke="#a4a4a4" stroke-width="1" stroke-dasharray="2 4.5 1 5.5" shape-rendering="crispEdges"/>
<g opacity="0.45" clip-path="url(#hfill)">
<line x1="93" y1="397.5" x2="773.0" y2="397.5" stroke="#b8d8b8" stroke-width="1" stroke-dasharray="2 4.5 1 5.5" shape-rendering="crispEdges"/>
<line x1="93" y1="382.5" x2="773.0" y2="382.5" stroke="#b8d8b8" stroke-width="1" stroke-dasharray="2 4.5 1 5.5" shape-rendering="crispEdges"/>
</g>
<clipPath id="hout"><polygon points="87.0,367.9 87.6,395.60 96.3,402.50 105.0,415.00 113.7,419.40 122.3,415.00 131.0,407.50 139.7,406.00 148.4,403.50 157.1,405.60 165.8,408.40 174.5,409.00 183.1,403.10 191.8,386.50 200.5,382.50 209.2,376.50 217.9,375.00 226.6,376.25 235.3,383.50 243.9,399.40 252.6,409.40 261.3,406.90 270.0,395.00 278.7,393.10 287.4,389.00 296.1,385.00 304.8,391.25 313.4,405.00 322.1,409.60 330.8,401.90 339.5,395.00 348.2,388.75 356.9,381.90 365.6,377.70 374.2,382.50 382.9,390.60 391.6,399.00 400.3,399.00 409.0,392.25 417.7,390.40 426.4,388.10 435.0,386.00 443.7,395.60 452.4,404.25 461.1,408.75 469.8,404.00 478.5,399.75 487.2,390.00 495.8,370.00 504.5,369.00 513.2,369.00 521.9,369.40 530.6,370.60 539.3,373.50 548.0,377.70 556.6,385.00 565.3,391.00 574.0,392.50 582.7,396.90 591.4,402.50 600.1,407.50 608.8,404.75 617.4,396.25 626.1,397.50 634.8,396.25 643.5,394.10 652.2,404.75 660.9,412.25 669.6,413.50 678.2,406.90 686.9,400.40 695.6,391.90 704.3,387.50 713.0,384.00 721.7,391.25 730.4,400.25 739.1,400.25 747.7,401.50 756.4,395.00 765.1,389.10 773.8,391.25 774.0,367.9"/></clipPath>
<g clip-path="url(#hout)">
<line x1="93" y1="397.5" x2="773.0" y2="397.5" stroke="#a4a4a4" stroke-width="1" stroke-dasharray="2 4.5 1 5.5" shape-rendering="crispEdges"/>
<line x1="93" y1="382.5" x2="773.0" y2="382.5" stroke="#a4a4a4" stroke-width="1" stroke-dasharray="2 4.5 1 5.5" shape-rendering="crispEdges"/>
</g>
<line x1="93" y1="455.5" x2="773.0" y2="455.5" stroke="#a4a4a4" stroke-width="1" stroke-dasharray="2 4.5 1 5.5" shape-rendering="crispEdges"/>
<line x1="93" y1="487.5" x2="773.0" y2="487.5" stroke="#a4a4a4" stroke-width="1" stroke-dasharray="2 4.5 1 5.5" shape-rendering="crispEdges"/>
<line x1="93" y1="520.5" x2="773.0" y2="520.5" stroke="#a4a4a4" stroke-width="1" stroke-dasharray="2 4.5 1 5.5" shape-rendering="crispEdges"/>
<line x1="148.5" y1="446" x2="148.5" y2="550" stroke="#a4a4a4" stroke-width="1" stroke-dasharray="2 4.5 1 5.5" shape-rendering="crispEdges"/>
<line x1="217.5" y1="446" x2="217.5" y2="550" stroke="#a4a4a4" stroke-width="1" stroke-dasharray="2 4.5 1 5.5" shape-rendering="crispEdges"/>
<line x1="287.5" y1="446" x2="287.5" y2="550" stroke="#a4a4a4" stroke-width="1" stroke-dasharray="2 4.5 1 5.5" shape-rendering="crispEdges"/>
<line x1="356.5" y1="446" x2="356.5" y2="550" stroke="#a4a4a4" stroke-width="1" stroke-dasharray="2 4.5 1 5.5" shape-rendering="crispEdges"/>
<line x1="426.5" y1="446" x2="426.5" y2="550" stroke="#a4a4a4" stroke-width="1" stroke-dasharray="2 4.5 1 5.5" shape-rendering="crispEdges"/>
<line x1="495.5" y1="446" x2="495.5" y2="550" stroke="#a4a4a4" stroke-width="1" stroke-dasharray="2 4.5 1 5.5" shape-rendering="crispEdges"/>
<line x1="565.5" y1="446" x2="565.5" y2="550" stroke="#a4a4a4" stroke-width="1" stroke-dasharray="2 4.5 1 5.5" shape-rendering="crispEdges"/>
<line x1="634.5" y1="446" x2="634.5" y2="550" stroke="#a4a4a4" stroke-width="1" stroke-dasharray="2 4.5 1 5.5" shape-rendering="crispEdges"/>
<line x1="704.5" y1="446" x2="704.5" y2="550" stroke="#a4a4a4" stroke-width="1" stroke-dasharray="2 4.5 1 5.5" shape-rendering="crispEdges"/>
<g fill="#2cc82c" shape-rendering="crispEdges">
<rect x="493.2" y="545.2" width="5.2" height="6.0"/>
<rect x="501.9" y="534.2" width="5.2" height="17.0"/>
<rect x="510.6" y="527.2" width="5.2" height="24.0"/>
<rect x="519.3" y="542.2" width="5.2" height="9.0"/>
<rect x="528.0" y="545.2" width="5.2" height="6.0"/>
<rect x="536.7" y="546.2" width="5.2" height="5.0"/>
<rect x="545.4" y="549.2" width="5.2" height="2.0"/>
<rect x="554.0" y="550.3" width="5.2" height="0.9"/>
</g>
<g fill="#e06a28">
<rect x="521.1" y="550" width="1.6" height="1.2"/>
<rect x="529.8" y="550" width="1.6" height="1.2"/>
<rect x="538.5" y="550" width="1.6" height="1.2"/>
<rect x="547.2" y="550" width="1.6" height="1.2"/>
</g>
<g fill="none" stroke="#000" stroke-width="2">
<rect x="87.0" y="73.9" width="687.0" height="477.9"/>
<line x1="87.0" y1="147.3" x2="774.0" y2="147.3"/>
<line x1="87.0" y1="221.4" x2="774.0" y2="221.4"/>
<line x1="87.0" y1="294.9" x2="774.0" y2="294.9"/>
<line x1="87.0" y1="367.9" x2="774.0" y2="367.9"/>
<line x1="87.0" y1="441.9" x2="774.0" y2="441.9"/>
</g>
<g stroke="#000" stroke-width="1" shape-rendering="crispEdges">
<line x1="148.5" y1="70" x2="148.5" y2="74"/>
<line x1="148.5" y1="552" x2="148.5" y2="555.6"/>
<line x1="217.5" y1="70" x2="217.5" y2="74"/>
<line x1="217.5" y1="552" x2="217.5" y2="555.6"/>
<line x1="287.5" y1="70" x2="287.5" y2="74"/>
<line x1="287.5" y1="552" x2="287.5" y2="555.6"/>
<line x1="356.5" y1="70" x2="356.5" y2="74"/>
<line x1="356.5" y1="552" x2="356.5" y2="555.6"/>
<line x1="426.5" y1="70" x2="426.5" y2="74"/>
<line x1="426.5" y1="552" x2="426.5" y2="555.6"/>
<line x1="495.5" y1="70" x2="495.5" y2="74"/>
<line x1="495.5" y1="552" x2="495.5" y2="555.6"/>
<line x1="565.5" y1="70" x2="565.5" y2="74"/>
<line x1="565.5" y1="552" x2="565.5" y2="555.6"/>
<line x1="634.5" y1="70" x2="634.5" y2="74"/>
<line x1="634.5" y1="552" x2="634.5" y2="555.6"/>
<line x1="704.5" y1="70" x2="704.5" y2="74"/>
<line x1="704.5" y1="552" x2="704.5" y2="555.6"/>
<line x1="773.5" y1="70" x2="773.5" y2="74"/>
<line x1="773.5" y1="552" x2="773.5" y2="555.6"/>
<line x1="83.5" y1="154.5" x2="87" y2="154.5"/>
<line x1="83.5" y1="169.5" x2="87" y2="169.5"/>
<line x1="83.5" y1="184.5" x2="87" y2="184.5"/>
<line x1="83.5" y1="198.5" x2="87" y2="198.5"/>
<line x1="83.5" y1="213.5" x2="87" y2="213.5"/>
<line x1="83.5" y1="233.5" x2="87" y2="233.5"/>
<line x1="83.5" y1="253.5" x2="87" y2="253.5"/>
<line x1="83.5" y1="273.5" x2="87" y2="273.5"/>
<line x1="83.5" y1="293.5" x2="87" y2="293.5"/>
<line x1="83.5" y1="302.5" x2="87" y2="302.5"/>
<line x1="83.5" y1="314.5" x2="87" y2="314.5"/>
<line x1="83.5" y1="325.5" x2="87" y2="325.5"/>
<line x1="83.5" y1="336.5" x2="87" y2="336.5"/>
<line x1="83.5" y1="347.5" x2="87" y2="347.5"/>
<line x1="83.5" y1="358.5" x2="87" y2="358.5"/>
<line x1="83.5" y1="427.5" x2="87" y2="427.5"/>
<line x1="83.5" y1="412.5" x2="87" y2="412.5"/>
<line x1="83.5" y1="397.5" x2="87" y2="397.5"/>
<line x1="83.5" y1="382.5" x2="87" y2="382.5"/>
<line x1="83.5" y1="455.5" x2="87" y2="455.5"/>
<line x1="83.5" y1="487.5" x2="87" y2="487.5"/>
<line x1="83.5" y1="520.5" x2="87" y2="520.5"/>
<line x1="83.5" y1="552.5" x2="87" y2="552.5"/>
</g>
<text x="15" y="19.5" font-size="19.5" text-anchor="start" fill="#000" textLength="36.5" lengthAdjust="spacingAndGlyphs">GFS</text>
<text x="69.5" y="19.5" font-size="19.5" text-anchor="start" fill="#000" textLength="10" lengthAdjust="spacingAndGlyphs">&#8211;</text>
<text x="95" y="19.5" font-size="19.5" text-anchor="start" fill="#000" textLength="128.5" lengthAdjust="spacingAndGlyphs">Meteogramm</text>
<text x="438" y="19.8" font-size="19.5" text-anchor="start" fill="#000" textLength="38" lengthAdjust="spacingAndGlyphs">Lon:</text>
<text x="491" y="19.8" font-size="19.5" text-anchor="start" fill="#000" textLength="85" lengthAdjust="spacingAndGlyphs">31.0000</text>
<text x="586" y="19.8" font-size="19.5" text-anchor="start" fill="#000" textLength="36" lengthAdjust="spacingAndGlyphs">Lat:</text>
<text x="638.5" y="19.8" font-size="19.5" text-anchor="start" fill="#000" textLength="84.5" lengthAdjust="spacingAndGlyphs">50.0000</text>
<text x="734.5" y="19.8" font-size="19.5" text-anchor="start" fill="#000" textLength="37.0" lengthAdjust="spacingAndGlyphs">Hgt:</text>
<text x="783.6" y="19.8" font-size="19.5" text-anchor="start" fill="#000">1</text>
<text x="8" y="42" font-size="10" text-anchor="start" fill="#000" textLength="54.5" lengthAdjust="spacingAndGlyphs">Lauf: 00Z</text>
<text x="135" y="55.8" font-size="12.6" text-anchor="start" fill="#000" textLength="26" lengthAdjust="spacingAndGlyphs">2020</text>
<text x="135" y="579.8" font-size="12.6" text-anchor="start" fill="#000" textLength="26" lengthAdjust="spacingAndGlyphs">2020</text>
<text x="131.4" y="68.5" font-size="13" text-anchor="start" fill="#000" textLength="34.6" lengthAdjust="spacingAndGlyphs">17MAR</text>
<text x="131.4" y="568" font-size="13" text-anchor="start" fill="#000" textLength="34.6" lengthAdjust="spacingAndGlyphs">17MAR</text>
<text x="200.9" y="68.5" font-size="13" text-anchor="start" fill="#000" textLength="34.6" lengthAdjust="spacingAndGlyphs">18MAR</text>
<text x="200.9" y="568" font-size="13" text-anchor="start" fill="#000" textLength="34.6" lengthAdjust="spacingAndGlyphs">18MAR</text>
<text x="270.4" y="68.5" font-size="13" text-anchor="start" fill="#000" textLength="34.6" lengthAdjust="spacingAndGlyphs">19MAR</text>
<text x="270.4" y="568" font-size="13" text-anchor="start" fill="#000" textLength="34.6" lengthAdjust="spacingAndGlyphs">19MAR</text>
<text x="339.9" y="68.5" font-size="13" text-anchor="start" fill="#000" textLength="34.6" lengthAdjust="spacingAndGlyphs">20MAR</text>
<text x="339.9" y="568" font-size="13" text-anchor="start" fill="#000" textLength="34.6" lengthAdjust="spacingAndGlyphs">20MAR</text>
<text x="409.4" y="68.5" font-size="13" text-anchor="start" fill="#000" textLength="34.6" lengthAdjust="spacingAndGlyphs">21MAR</text>
<text x="409.4" y="568" font-size="13" text-anchor="start" fill="#000" textLength="34.6" lengthAdjust="spacingAndGlyphs">21MAR</text>
<text x="478.8" y="68.5" font-size="13" text-anchor="start" fill="#000" textLength="34.6" lengthAdjust="spacingAndGlyphs">22MAR</text>
<text x="478.8" y="568" font-size="13" text-anchor="start" fill="#000" textLength="34.6" lengthAdjust="spacingAndGlyphs">22MAR</text>
<text x="548.3" y="68.5" font-size="13" text-anchor="start" fill="#000" textLength="34.6" lengthAdjust="spacingAndGlyphs">23MAR</text>
<text x="548.3" y="568" font-size="13" text-anchor="start" fill="#000" textLength="34.6" lengthAdjust="spacingAndGlyphs">23MAR</text>
<text x="617.8" y="68.5" font-size="13" text-anchor="start" fill="#000" textLength="34.6" lengthAdjust="spacingAndGlyphs">24MAR</text>
<text x="617.8" y="568" font-size="13" text-anchor="start" fill="#000" textLength="34.6" lengthAdjust="spacingAndGlyphs">24MAR</text>
<text x="687.3" y="68.5" font-size="13" text-anchor="start" fill="#000" textLength="34.6" lengthAdjust="spacingAndGlyphs">25MAR</text>
<text x="687.3" y="568" font-size="13" text-anchor="start" fill="#000" textLength="34.6" lengthAdjust="spacingAndGlyphs">25MAR</text>
<text x="756.8" y="68.5" font-size="13" text-anchor="start" fill="#000" textLength="34.6" lengthAdjust="spacingAndGlyphs">26MAR</text>
<text x="756.8" y="568" font-size="13" text-anchor="start" fill="#000" textLength="34.6" lengthAdjust="spacingAndGlyphs">26MAR</text>
<text x="73.5" y="601" font-size="16.2" text-anchor="start" fill="#000" textLength="103.5" lengthAdjust="spacingAndGlyphs">Sonnenaufgang</text>
<text x="186.4" y="601" font-size="16.2" text-anchor="start" fill="#000" textLength="34.8" lengthAdjust="spacingAndGlyphs">heute</text>
<text x="231.4" y="601" font-size="16.2" text-anchor="start" fill="#000" textLength="36.0" lengthAdjust="spacingAndGlyphs">04:05</text>
<text x="278.2" y="601" font-size="16.2" text-anchor="start" fill="#000" textLength="25.5" lengthAdjust="spacingAndGlyphs">UTC</text>
<text x="73.5" y="619" font-size="16.2" text-anchor="start" fill="#000" textLength="115.9" lengthAdjust="spacingAndGlyphs">Sonnenuntergang</text>
<text x="199.5" y="619" font-size="16.2" text-anchor="start" fill="#000" textLength="34.9" lengthAdjust="spacingAndGlyphs">heute</text>
<text x="245.6" y="619" font-size="16.2" text-anchor="start" fill="#000" textLength="35.6" lengthAdjust="spacingAndGlyphs">16:02</text>
<text x="291.7" y="619" font-size="16.2" text-anchor="start" fill="#000" textLength="25.2" lengthAdjust="spacingAndGlyphs">UTC</text>
<text x="582.5" y="622.3" font-size="13.5" text-anchor="start" fill="#000" textLength="148.5" lengthAdjust="spacingAndGlyphs">www.wetterzentrale.de</text>
<rect x="29" y="84" width="16.6" height="53" fill="#139cfb"/>
<text x="42.8" y="136" font-size="16" text-anchor="start" fill="#fff" textLength="50.5" lengthAdjust="spacingAndGlyphs" transform="rotate(-90 42.8 136)">Wolken (%)</text>
<text x="58.2" y="135.5" font-size="11" text-anchor="start" fill="#000" transform="rotate(-90 58.2 135.5)">L</text>
<text x="58.2" y="123.5" font-size="11" text-anchor="start" fill="#000" transform="rotate(-90 58.2 123.5)">e</text>
<text x="58.2" y="113" font-size="11" text-anchor="start" fill="#000" transform="rotate(-90 58.2 113)">v</text>
<text x="58.2" y="103" font-size="11" text-anchor="start" fill="#000" transform="rotate(-90 58.2 103)">e</text>
<text x="58.2" y="91.5" font-size="11" text-anchor="start" fill="#000" transform="rotate(-90 58.2 91.5)">l</text>
<text x="61.6" y="91.2" font-size="12.3" text-anchor="start" fill="#000" textLength="21.8" lengthAdjust="spacingAndGlyphs">Hoch</text>
<text x="61.6" y="115.9" font-size="12.3" text-anchor="start" fill="#000" textLength="22.4" lengthAdjust="spacingAndGlyphs">Mittel</text>
<text x="64.8" y="140.3" font-size="12.3" text-anchor="start" fill="#000" textLength="15.2" lengthAdjust="spacingAndGlyphs">Tief</text>
<text x="27" y="211" font-size="13" text-anchor="start" fill="#000" textLength="53" lengthAdjust="spacingAndGlyphs" transform="rotate(-90 27 211)">Bodendruck</text>
<text x="52" y="197" font-size="13" text-anchor="start" fill="#000" textLength="24.5" lengthAdjust="spacingAndGlyphs" transform="rotate(-90 52 197)">(hPa)</text>
<text x="80.3" y="158.8" font-size="12" text-anchor="end" fill="#000" textLength="23.5" lengthAdjust="spacingAndGlyphs">1040</text>
<text x="80.3" y="173.6" font-size="12" text-anchor="end" fill="#000" textLength="23.5" lengthAdjust="spacingAndGlyphs">1035</text>
<text x="80.3" y="188.5" font-size="12" text-anchor="end" fill="#000" textLength="23.5" lengthAdjust="spacingAndGlyphs">1030</text>
<text x="80.3" y="203.0" font-size="12" text-anchor="end" fill="#000" textLength="23.5" lengthAdjust="spacingAndGlyphs">1025</text>
<text x="80.3" y="217.7" font-size="12" text-anchor="end" fill="#000" textLength="23.5" lengthAdjust="spacingAndGlyphs">1020</text>
<text x="27" y="291.5" font-size="13" text-anchor="start" fill="#2fae2f" textLength="65" lengthAdjust="spacingAndGlyphs" transform="rotate(-90 27 291.5)">Wind Geschwi.</text>
<text x="42" y="284" font-size="13" text-anchor="start" fill="#000" textLength="51.5" lengthAdjust="spacingAndGlyphs" transform="rotate(-90 42 284)">Windfahnen</text>
<text x="58.5" y="266.5" font-size="13" text-anchor="start" fill="#000" textLength="15.5" lengthAdjust="spacingAndGlyphs" transform="rotate(-90 58.5 266.5)">(kt)</text>
<text x="80.3" y="237.7" font-size="12" text-anchor="end" fill="#000" textLength="11.5" lengthAdjust="spacingAndGlyphs">15</text>
<text x="80.3" y="257.7" font-size="12" text-anchor="end" fill="#000" textLength="11.5" lengthAdjust="spacingAndGlyphs">10</text>
<text x="80.3" y="277.7" font-size="12" text-anchor="end" fill="#000" textLength="5.6" lengthAdjust="spacingAndGlyphs">5</text>
<text x="80.3" y="297.8" font-size="12" text-anchor="end" fill="#000" textLength="5.6" lengthAdjust="spacingAndGlyphs">0</text>
<text x="27" y="365" font-size="13" text-anchor="start" fill="#2a3cc8" textLength="26.5" lengthAdjust="spacingAndGlyphs" transform="rotate(-90 27 365)">T&#8722;Min,</text>
<text x="27" y="331.5" font-size="13" text-anchor="start" fill="#e03030" textLength="17" lengthAdjust="spacingAndGlyphs" transform="rotate(-90 27 331.5)">Max</text>
<text x="41" y="356.5" font-size="13" text-anchor="start" fill="#000" textLength="40.5" lengthAdjust="spacingAndGlyphs" transform="rotate(-90 41 356.5)">Taupunkt</text>
<text x="58.5" y="337.5" font-size="13" text-anchor="start" fill="#000" textLength="12.5" lengthAdjust="spacingAndGlyphs" transform="rotate(-90 58.5 337.5)">(C)</text>
<text x="80.3" y="307.1" font-size="12" text-anchor="end" fill="#000" textLength="11.6" lengthAdjust="spacingAndGlyphs">15</text>
<text x="80.3" y="318.3" font-size="12" text-anchor="end" fill="#000" textLength="11.6" lengthAdjust="spacingAndGlyphs">10</text>
<text x="80.3" y="329.5" font-size="12" text-anchor="end" fill="#000" textLength="5.8" lengthAdjust="spacingAndGlyphs">5</text>
<text x="80.3" y="340.7" font-size="12" text-anchor="end" fill="#000" textLength="5.8" lengthAdjust="spacingAndGlyphs">0</text>
<text x="80.3" y="351.9" font-size="12" text-anchor="end" fill="#000" textLength="11.6" lengthAdjust="spacingAndGlyphs">&#8722;5</text>
<text x="80.3" y="363.1" font-size="12" text-anchor="end" fill="#000" textLength="18.4" lengthAdjust="spacingAndGlyphs">&#8722;10</text>
<text x="27.5" y="431.5" font-size="13" text-anchor="start" fill="#2fae2f" textLength="51.5" lengthAdjust="spacingAndGlyphs" transform="rotate(-90 27.5 431.5)">2m RF (%)</text>
<text x="79.5" y="431.4" font-size="12" text-anchor="end" fill="#000" textLength="11.2" lengthAdjust="spacingAndGlyphs">20</text>
<text x="79.5" y="416.5" font-size="12" text-anchor="end" fill="#000" textLength="11.2" lengthAdjust="spacingAndGlyphs">40</text>
<text x="79.5" y="401.6" font-size="12" text-anchor="end" fill="#000" textLength="11.2" lengthAdjust="spacingAndGlyphs">60</text>
<text x="79.5" y="386.7" font-size="12" text-anchor="end" fill="#000" textLength="11.2" lengthAdjust="spacingAndGlyphs">80</text>
<text x="26.5" y="526.5" font-size="13" text-anchor="start" fill="#000" textLength="57" lengthAdjust="spacingAndGlyphs" transform="rotate(-90 26.5 526.5)">Niederschlag</text>
<text x="49" y="510.5" font-size="13" text-anchor="start" fill="#000" textLength="26" lengthAdjust="spacingAndGlyphs" transform="rotate(-90 49 510.5)">(mm)</text>
<text x="80" y="459.6" font-size="12" text-anchor="end" fill="#000" textLength="11.5" lengthAdjust="spacingAndGlyphs">15</text>
<text x="80" y="491.6" font-size="12" text-anchor="end" fill="#000" textLength="11.5" lengthAdjust="spacingAndGlyphs">10</text>
<text x="80" y="524.7" font-size="12" text-anchor="end" fill="#000" textLength="5.6" lengthAdjust="spacingAndGlyphs">5</text>
<text x="80" y="557.5" font-size="12" text-anchor="end" fill="#000" textLength="5.6" lengthAdjust="spacingAndGlyphs">0</text>
</svg></body></html>
